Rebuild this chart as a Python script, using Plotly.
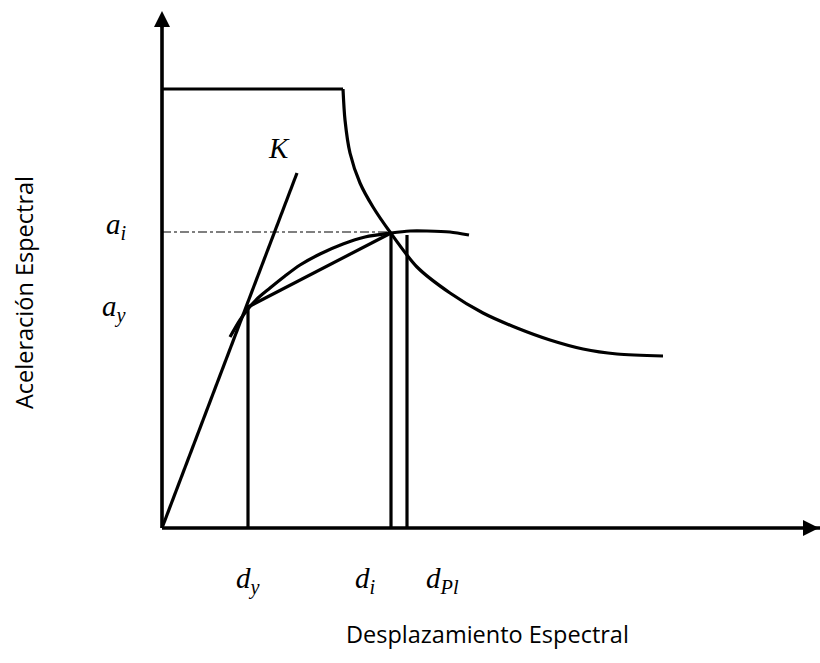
import plotly.graph_objects as go

# ---- data (abstract units, origin at the axes corner) ----
plateau_x = [0.0, 1.81]
plateau_y = [4.39, 4.39]

demand_x = [1.81, 1.83, 1.88, 1.98, 2.11, 2.28, 2.55, 2.88, 3.21, 3.55, 3.88, 4.21, 4.55, 5.01]
demand_y = [4.39, 4.08, 3.75, 3.45, 3.21, 2.96, 2.61, 2.35, 2.15, 2.00, 1.88, 1.79, 1.74, 1.72]

capacity_x = [0.68, 0.78, 0.86, 0.96, 1.08, 1.23, 1.38, 1.58, 1.81, 2.03, 2.29, 2.48, 2.65, 2.88, 3.07]
capacity_y = [1.91, 2.08, 2.19, 2.30, 2.40, 2.52, 2.63, 2.74, 2.84, 2.91, 2.95, 2.97, 2.97, 2.96, 2.93]

bilinear_x = [0.86, 2.29]
bilinear_y = [2.21, 2.95]

k_x = [0.0, 1.35]
k_y = [0.0, 3.55]

d_y_val, a_y_val = 0.86, 2.22
d_i_val, a_i_val = 2.29, 2.96
d_pl_val, a_pl_val = 2.45, 2.93

x_axis_end = 6.58
y_axis_end = 5.02

black = "#000000"
fig = go.Figure()

def line(xs, ys, width=3.2, dash=None, shape="linear", smoothing=None):
    ln = dict(color=black, width=width, shape=shape)
    if dash:
        ln["dash"] = dash
    if smoothing is not None:
        ln["smoothing"] = smoothing
    fig.add_trace(go.Scatter(x=xs, y=ys, mode="lines", line=ln,
                             hoverinfo="skip", showlegend=False))

# axes
line([0, x_axis_end], [0, 0], width=3.6)
line([0, 0], [0, y_axis_end], width=3.6)
# plateau + demand curve
line(plateau_x, plateau_y)
line(demand_x, demand_y, shape="spline", smoothing=0.8)
# capacity curve
line(capacity_x, capacity_y, shape="spline", smoothing=0.8)
# bilinear
line(bilinear_x, bilinear_y)
# K line
line(k_x, k_y)
# verticals
line([d_y_val, d_y_val], [0, a_y_val])
line([d_i_val, d_i_val], [0, a_i_val])
line([d_pl_val, d_pl_val], [0, a_pl_val])
# dash-dot to a_i
line([0, d_i_val], [a_i_val, a_i_val], width=1.2, dash="dashdot")

math_font = dict(family="Liberation Serif", size=29, color=black)
sans_font = dict(family="Open Sans", size=23.5, color=black)

ann = []
# arrowheads
ann.append(dict(xref="x", yref="paper", x=0, y=1 - 11 / 663, ax=0, ay=18,
                showarrow=True, arrowhead=2, arrowwidth=3.2, arrowsize=1.0,
                arrowcolor=black, text=""))
ann.append(dict(xref="paper", yref="y", x=828 / 820, y=0, ax=-20, ay=0,
                showarrow=True, arrowhead=2, arrowwidth=3.2, arrowsize=1.0,
                arrowcolor=black, text=""))

def label(text, x, y):
    ann.append(dict(xref="x", yref="y", x=x, y=y, text=text, showarrow=False,
                    font=math_font, xanchor="center", yanchor="middle"))

label("<i>K</i>", 1.17, 3.80)
label("<i>a</i><sub><i>i</i></sub>", -0.46, 3.02)
label("<i>a</i><sub><i>y</i></sub>", -0.48, 2.20)
label("<i>d</i><sub><i>y</i></sub>", 0.86, -0.52)
label("<i>d</i><sub><i>i</i></sub>", 2.03, -0.52)
label("<i>d</i><sub><i>Pl</i></sub>", 2.80, -0.52)

ann.append(dict(xref="paper", yref="paper", x=487 / 820, y=1 - 634 / 663,
                text="Desplazamiento Espectral", showarrow=False, font=sans_font,
                xanchor="center", yanchor="middle"))
ann.append(dict(xref="paper", yref="paper", x=24 / 820, y=1 - 293 / 663,
                text="Aceleración Espectral", showarrow=False, font=sans_font,
                textangle=-90, xanchor="center", yanchor="middle"))

fig.update_layout(
    width=820, height=663,
    margin=dict(l=0, r=0, t=0, b=0),
    paper_bgcolor="white", plot_bgcolor="white",
    xaxis=dict(range=[-1.62, 6.58], visible=False, fixedrange=True),
    yaxis=dict(range=[-1.35, 5.28], visible=False, fixedrange=True),
    annotations=ann,
)

fig.write_html("out.html", config={"displayModeBar": False},
               post_script="document.body.style.margin='0';document.body.style.overflow='hidden';")
